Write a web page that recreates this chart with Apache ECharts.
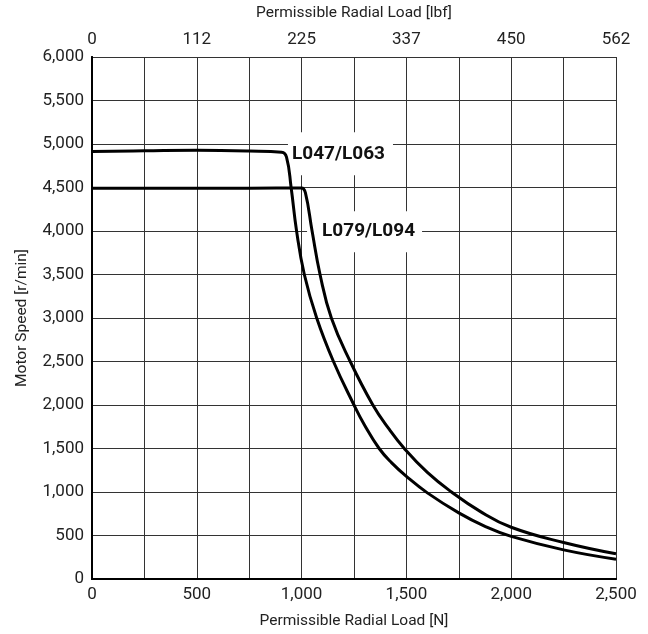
<!DOCTYPE html>
<html>
<head>
<meta charset="utf-8">
<script src="https://cdn.jsdelivr.net/npm/echarts@6/dist/echarts.min.js"></script>
<style>html,body{margin:0;padding:0;background:#fff;}#c{width:648px;height:634px;}</style>
</head>
<body>
<div id="c"></div>
<script>
const seriesNames = ['L047/L063', 'L079/L094'];
const loadL047 = [0, 250, 500, 750, 905, 928, 950, 976, 1013, 1072, 1152, 1250, 1300, 1370, 1430, 1500, 1600, 1750, 1875, 2000, 2250, 2500];
const speedL047 = [4915, 4922, 4928, 4920, 4905, 4850, 4500, 4000, 3500, 3000, 2500, 2000, 1770, 1500, 1335, 1180, 990, 760, 605, 490, 335, 228];
const loadL079 = [0, 250, 500, 750, 1000, 1018, 1050, 1088, 1142, 1232, 1340, 1415, 1490, 1600, 1715, 1850, 2000, 2250, 2500];
const speedL079 = [4490, 4490, 4490, 4492, 4495, 4440, 4000, 3500, 3000, 2500, 2000, 1730, 1500, 1225, 1000, 780, 595, 420, 290];
const bottomTicks = [0, 500, 1000, 1500, 2000, 2500];
const lbfLabels = ['0', '112', '225', '337', '450', '562'];

const font = 'Roboto';
const txt = '#222';
const chart = echarts.init(document.getElementById('c'), null, {renderer: 'canvas'});
const pair = (xs, ys) => xs.map((x, i) => [x, ys[i]]);

chart.setOption({
  animation: false,
  backgroundColor: '#fff',
  grid: {left: 92, right: 32, top: 56, bottom: 50},
  xAxis: [{
    type: 'value', min: 0, max: 2500, interval: 250, position: 'bottom',
    name: 'Permissible Radial Load [N]', nameLocation: 'middle', nameGap: 34,
    nameTextStyle: {fontFamily: font, fontSize: 15.5, color: txt},
    axisLine: {show: true, lineStyle: {color: '#000', width: 2}},
    axisTick: {show: false},
    axisLabel: {margin: 7, fontFamily: font, fontSize: 17, color: txt,
      formatter: v => bottomTicks.includes(v) ? v.toLocaleString('en-US') : ''},
    splitLine: {show: true, lineStyle: {color: '#333', width: 1}}
  }, {
    type: 'value', min: 0, max: 2500, interval: 250, position: 'top',
    name: 'Permissible Radial Load [lbf]', nameLocation: 'middle', nameGap: 36,
    nameTextStyle: {fontFamily: font, fontSize: 15.5, color: txt},
    axisLine: {show: true, lineStyle: {color: '#000', width: 2}},
    axisTick: {show: false},
    axisLabel: {margin: 9, fontFamily: font, fontSize: 17, color: txt,
      formatter: v => { const i = bottomTicks.indexOf(v); return i >= 0 ? lbfLabels[i] : ''; }},
    splitLine: {show: false}
  }],
  yAxis: [{
    type: 'value', min: 0, max: 6000, interval: 500,
    name: 'Motor Speed [r/min]', nameLocation: 'middle', nameGap: 62,
    nameTextStyle: {fontFamily: font, fontSize: 15.5, color: txt},
    axisLine: {show: true, lineStyle: {color: '#000', width: 2}},
    axisTick: {show: false},
    axisLabel: {margin: 8, fontFamily: font, fontSize: 17, color: txt,
      formatter: v => v.toLocaleString('en-US')},
    splitLine: {show: true, lineStyle: {color: '#333', width: 1}}
  }, {
    type: 'value', min: 0, max: 6000, interval: 500, position: 'right',
    axisLine: {show: true, lineStyle: {color: '#000', width: 2}},
    axisTick: {show: false}, axisLabel: {show: false}, splitLine: {show: false}
  }],
  series: [{
    name: seriesNames[0], type: 'line', data: pair(loadL047, speedL047),
    smooth: 0.45, showSymbol: false, symbol: 'none',
    lineStyle: {color: '#000', width: 3}, z: 5,
    markPoint: {
      symbol: 'circle', symbolSize: 0, silent: true, z: 4,
      data: [{coord: [935, 4887], value: 0}],
      label: {show: true, position: 'right', distance: 0, formatter: seriesNames[0],
        fontFamily: font, fontWeight: 'bold', fontSize: 19, color: '#111',
        backgroundColor: '#fff', padding: [12, 8, 12, 4]}
    }
  }, {
    name: seriesNames[1], type: 'line', data: pair(loadL079, speedL079),
    smooth: 0.45, showSymbol: false, symbol: 'none',
    lineStyle: {color: '#000', width: 3}, z: 5,
    markPoint: {
      symbol: 'circle', symbolSize: 0, silent: true, z: 4,
      data: [{coord: [1026, 3992], value: 0}],
      label: {show: true, position: 'right', distance: 0, formatter: seriesNames[1],
        fontFamily: font, fontWeight: 'bold', fontSize: 19, color: '#111',
        backgroundColor: '#fff', padding: [11, 7, 11, 15]}
    }
  }]
});
</script>
</body>
</html>
